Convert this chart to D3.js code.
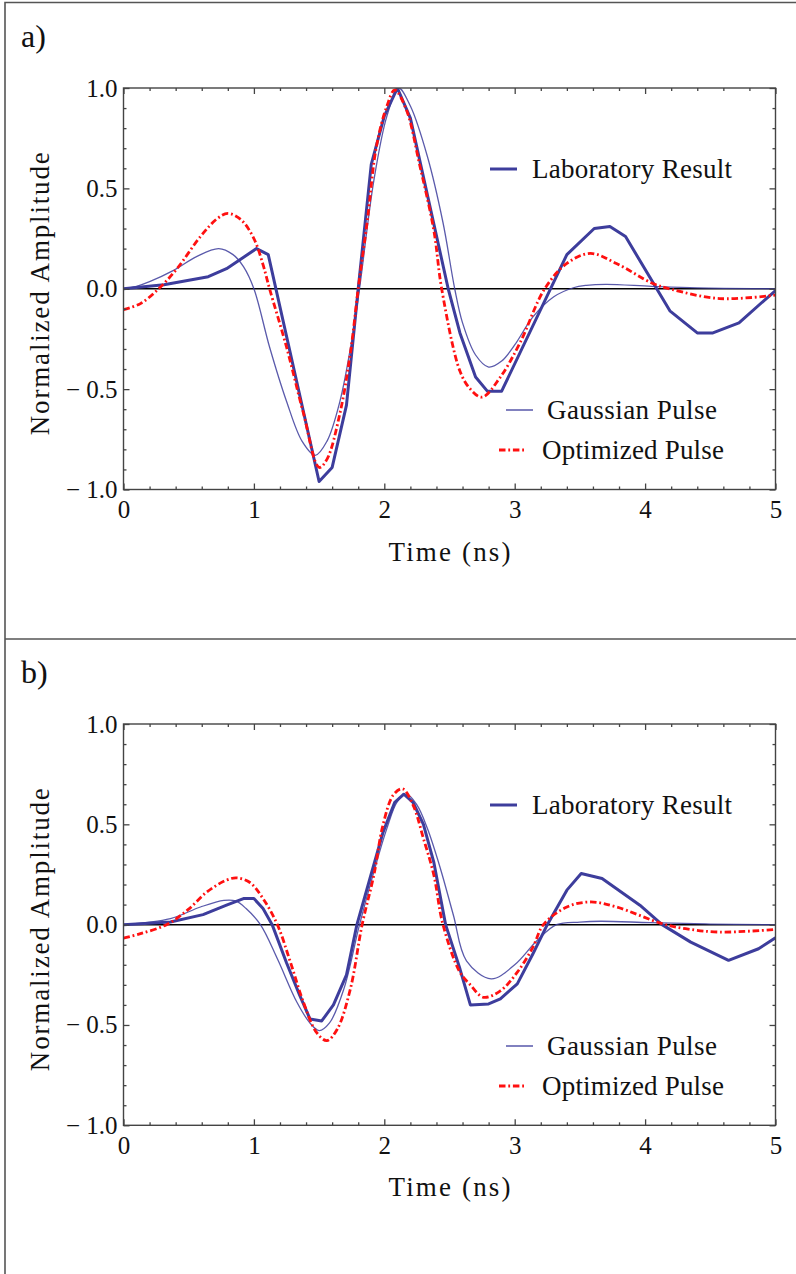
<!DOCTYPE html>
<html>
<head>
<meta charset="utf-8">
<script src="https://cdn.jsdelivr.net/npm/d3@7"></script>
<style>
  body { margin: 0; background: #fff; }
  svg { display: block; }
  text { font-family: "Liberation Serif", "Times New Roman", serif; fill: #111; }
</style>
</head>
<body>
<div id="chart"></div>
<script>
// ---- data (time in ns, normalized amplitude) ----

// panel a) laboratory result (sampled, straight segments)
const labA_t = [0, 0.31, 0.65, 0.79, 1.02, 1.11, 1.50, 1.60, 1.71, 1.80, 1.90, 2.00, 2.10, 2.20, 2.49, 2.58, 2.70, 2.79, 2.90, 3.40, 3.61, 3.73, 3.85, 4.19, 4.40, 4.52, 4.72, 4.91, 5.00];
const labA_v = [0, 0.02, 0.06, 0.10, 0.20, 0.17, -0.96, -0.89, -0.58, 0.0, 0.62, 0.86, 1.0, 0.85, 0.0, -0.22, -0.44, -0.51, -0.51, 0.17, 0.30, 0.31, 0.26, -0.11, -0.22, -0.22, -0.17, -0.06, -0.01];

// panel a) gaussian pulse
const gaussA_t = [0, 0.1, 0.2, 0.38, 0.56, 0.73, 0.84, 0.92, 1.0, 1.12, 1.25, 1.37, 1.47, 1.56, 1.66, 1.76, 1.81, 1.92, 2.02, 2.11, 2.20, 2.33, 2.45, 2.54, 2.60, 2.70, 2.80, 2.90, 3.00, 3.14, 3.30, 3.45, 3.55, 3.70, 4.05, 4.40, 5.0];
const gaussA_v = [0, 0.012, 0.035, 0.09, 0.16, 0.20, 0.17, 0.11, 0.0, -0.29, -0.56, -0.76, -0.83, -0.76, -0.56, -0.22, 0.0, 0.54, 0.86, 1.0, 0.91, 0.66, 0.33, 0.0, -0.17, -0.33, -0.39, -0.36, -0.28, -0.14, -0.04, 0.005, 0.017, 0.022, 0.012, 0.004, 0];

// panel a) optimized pulse
const optA_t = [0, 0.13, 0.27, 0.41, 0.59, 0.72, 0.80, 0.90, 1.0, 1.07, 1.12, 1.25, 1.38, 1.50, 1.56, 1.66, 1.74, 1.80, 1.87, 1.94, 2.02, 2.08, 2.17, 2.27, 2.38, 2.44, 2.58, 2.66, 2.75, 2.89, 3.04, 3.23, 3.40, 3.58, 3.78, 4.06, 4.21, 4.57, 5.0];
const optA_v = [-0.104, -0.074, 0, 0.10, 0.26, 0.35, 0.375, 0.345, 0.25, 0.12, 0, -0.29, -0.62, -0.89, -0.85, -0.62, -0.32, 0, 0.34, 0.71, 0.91, 0.99, 0.89, 0.62, 0.29, 0, -0.41, -0.50, -0.54, -0.44, -0.27, 0, 0.126, 0.176, 0.126, 0.026, -0.004, -0.049, -0.032];

// panel b) laboratory result
const labB_t = [0, 0.36, 0.61, 0.79, 0.92, 1.0, 1.07, 1.14, 1.25, 1.35, 1.43, 1.52, 1.61, 1.71, 1.79, 1.89, 1.99, 2.08, 2.15, 2.22, 2.30, 2.38, 2.47, 2.58, 2.66, 2.80, 2.89, 3.02, 3.14, 3.25, 3.40, 3.51, 3.67, 3.96, 4.13, 4.35, 4.64, 4.87, 5.0];
const labB_v = [0, 0.013, 0.05, 0.097, 0.13, 0.13, 0.08, 0, -0.19, -0.35, -0.47, -0.48, -0.40, -0.25, 0, 0.23, 0.46, 0.61, 0.65, 0.61, 0.50, 0.31, 0, -0.22, -0.40, -0.395, -0.37, -0.295, -0.145, 0, 0.172, 0.255, 0.23, 0.097, 0, -0.087, -0.178, -0.12, -0.065];

// panel b) gaussian pulse
const gaussB_t = [0, 0.36, 0.59, 0.77, 0.86, 0.94, 1.05, 1.18, 1.33, 1.43, 1.50, 1.58, 1.69, 1.81, 1.92, 2.02, 2.10, 2.17, 2.25, 2.33, 2.43, 2.53, 2.63, 2.82, 3.0, 3.17, 3.32, 3.5, 3.66, 4.04, 4.5, 5.0];
const gaussB_v = [0, 0.03, 0.088, 0.121, 0.118, 0.08, 0, -0.17, -0.387, -0.49, -0.528, -0.49, -0.32, 0, 0.263, 0.48, 0.613, 0.65, 0.597, 0.48, 0.28, 0.047, -0.18, -0.27, -0.2, -0.08, 0, 0.013, 0.017, 0.01, 0.003, 0];

// panel b) optimized pulse
const optB_t = [0, 0.13, 0.33, 0.49, 0.64, 0.79, 0.87, 0.97, 1.07, 1.18, 1.28, 1.38, 1.48, 1.56, 1.64, 1.74, 1.83, 1.92, 1.99, 2.07, 2.14, 2.22, 2.30, 2.38, 2.45, 2.58, 2.66, 2.76, 2.89, 3.02, 3.14, 3.22, 3.40, 3.58, 3.78, 4.13, 4.31, 4.57, 5.0];
const optB_v = [-0.067, -0.045, 0, 0.072, 0.163, 0.222, 0.233, 0.21, 0.13, 0, -0.187, -0.387, -0.537, -0.578, -0.52, -0.32, 0, 0.247, 0.497, 0.647, 0.677, 0.597, 0.43, 0.247, 0, -0.237, -0.30, -0.362, -0.33, -0.237, -0.112, 0, 0.088, 0.113, 0.088, 0.005, -0.02, -0.037, -0.024];

// axes
const xMajor = [0, 1, 2, 3, 4, 5];
const yMajor = [-1.0, -0.5, 0.0, 0.5, 1.0];
const seriesNames = ["Laboratory Result", "Gaussian Pulse", "Optimized Pulse"];
const panelLabels = ["a)", "b)"];

const width = 796, height = 1274;
const blue = "#3d3d9c", red = "#ff1010", frameColor = "#444";
const dotDash = "6.5,2.8,1.8,2.8";

const svg = d3.select("#chart").append("svg")
    .attr("width", width)
    .attr("height", height);

// outer panel borders
svg.append("path")
    .attr("d", "M796,2.5 H5 V1274 M5,639 H796")
    .attr("fill", "none")
    .attr("stroke", "#555")
    .attr("stroke-width", 1.6);

const x = d3.scaleLinear().domain([0, 5]).range([123.5, 775.5]);
const xMinor = d3.range(0, 5.001, 0.2).filter(t => Math.abs(t - Math.round(t)) > 1e-6);
const yMinor = d3.range(-1, 1.001, 0.1).filter(v => Math.abs(v * 2 - Math.round(v * 2)) > 1e-6);

function zip(ts, vs) {
    return ts.map((t, i) => ({ t: t, v: vs[i] }));
}

// Mathematica style tick label: "− 0.5"
const fmt1 = d3.format(".1f");
function fmtY(v) {
    return v < 0 ? "\u2212 " + fmt1(-v) : fmt1(v);
}

function drawPanel(cfg, idx) {
    const y = d3.scaleLinear().domain([-1, 1]).range([cfg.bottom, cfg.top]);
    const g = svg.append("g");

    // panel letter
    g.append("text")
        .attr("x", 21)
        .attr("y", cfg.top - 41)
        .style("font-size", "32px")
        .text(panelLabels[idx]);

    const clipId = "clip" + idx;
    g.append("clipPath").attr("id", clipId)
        .append("rect")
        .attr("x", x(0)).attr("y", y(1))
        .attr("width", x(5) - x(0)).attr("height", y(-1) - y(1));

    // zero axis
    g.append("line")
        .attr("x1", x(0)).attr("x2", x(5))
        .attr("y1", y(0)).attr("y2", y(0))
        .attr("stroke", "#000")
        .attr("stroke-width", 1.5);

    const plot = g.append("g").attr("clip-path", `url(#${clipId})`);
    const linear = d3.line().x(d => x(d.t)).y(d => y(d.v));
    const smooth = d3.line().x(d => x(d.t)).y(d => y(d.v)).curve(d3.curveCatmullRom.alpha(0.5));

    plot.append("path")
        .attr("d", smooth(zip(cfg.gauss_t, cfg.gauss_v)))
        .attr("fill", "none")
        .attr("stroke", blue)
        .attr("stroke-opacity", 0.85)
        .attr("stroke-width", 1.3);

    plot.append("path")
        .attr("d", linear(zip(cfg.lab_t, cfg.lab_v)))
        .attr("fill", "none")
        .attr("stroke", blue)
        .attr("stroke-width", 3)
        .attr("stroke-linejoin", "round");

    plot.append("path")
        .attr("d", smooth(zip(cfg.opt_t, cfg.opt_v)))
        .attr("fill", "none")
        .attr("stroke", red)
        .attr("stroke-width", 2.8)
        .attr("stroke-dasharray", dotDash);

    // frame
    g.append("rect")
        .attr("x", x(0)).attr("y", y(1))
        .attr("width", x(5) - x(0)).attr("height", y(-1) - y(1))
        .attr("fill", "none")
        .attr("stroke", frameColor)
        .attr("stroke-width", 1.4);

    // ticks, inward on all four sides
    const axes = [
        [d3.axisBottom(x).tickValues(xMajor).tickFormat(d3.format("d")), `translate(0,${y(-1)})`, 6, "bottom"],
        [d3.axisBottom(x).tickValues(xMinor), `translate(0,${y(-1)})`, 3, null],
        [d3.axisTop(x).tickValues(xMajor), `translate(0,${y(1)})`, 6, null],
        [d3.axisTop(x).tickValues(xMinor), `translate(0,${y(1)})`, 3, null],
        [d3.axisLeft(y).tickValues(yMajor).tickFormat(fmtY), `translate(${x(0)},0)`, 6, "left"],
        [d3.axisLeft(y).tickValues(yMinor), `translate(${x(0)},0)`, 3, null],
        [d3.axisRight(y).tickValues(yMajor), `translate(${x(5)},0)`, 6, null],
        [d3.axisRight(y).tickValues(yMinor), `translate(${x(5)},0)`, 3, null]
    ];
    axes.forEach(([axis, tr, size, side]) => {
        axis.tickSize(-size).tickSizeOuter(0).tickPadding(0);
        if (!side) axis.tickFormat("");
        const a = g.append("g").attr("transform", tr).call(axis);
        a.select(".domain").remove();
        a.selectAll(".tick line").attr("stroke", frameColor).attr("stroke-width", 1.3);
        a.selectAll("text")
            .style("font-family", '"Liberation Serif", serif')
            .style("font-size", "25px")
            .attr("fill", "#111");
        if (side === "bottom") a.selectAll("text").attr("y", 11);
        if (side === "left") a.selectAll("text").attr("x", -6);
    });

    // axis titles
    g.append("text")
        .attr("x", (x(0) + x(5)) / 2)
        .attr("y", y(-1) + 71)
        .attr("text-anchor", "middle")
        .attr("textLength", 122)
        .attr("lengthAdjust", "spacing")
        .style("font-size", "27px")
        .text("Time (ns)");

    g.append("text")
        .attr("transform", `translate(49,${y(0) + 5}) rotate(-90)`)
        .attr("text-anchor", "middle")
        .attr("textLength", 283)
        .attr("lengthAdjust", "spacing")
        .style("font-size", "27px")
        .text("Normalized Amplitude");

    // legend
    const legend = [
        { name: seriesNames[0], dy: 81, x1: 490, x2: 517, tx: 532, w: 200, sw: 3, color: blue, dash: null },
        { name: seriesNames[1], dy: 322, x1: 506, x2: 533, tx: 547, w: 170, sw: 1.3, color: blue, dash: null },
        { name: seriesNames[2], dy: 362, x1: 499, x2: 524, tx: 542, w: 182, sw: 2.8, color: red, dash: dotDash }
    ];
    legend.forEach(d => {
        const ly = y(1) + d.dy;
        g.append("line")
            .attr("x1", d.x1).attr("x2", d.x2)
            .attr("y1", ly).attr("y2", ly)
            .attr("stroke", d.color)
            .attr("stroke-width", d.sw)
            .attr("stroke-dasharray", d.dash);
        g.append("text")
            .attr("x", d.tx)
            .attr("y", ly + 9)
            .attr("textLength", d.w)
            .attr("lengthAdjust", "spacing")
            .style("font-size", "27px")
            .text(d.name);
    });
}

const panels = [
    { top: 88, bottom: 489.5, lab_t: labA_t, lab_v: labA_v, gauss_t: gaussA_t, gauss_v: gaussA_v, opt_t: optA_t, opt_v: optA_v },
    { top: 724, bottom: 1125.3, lab_t: labB_t, lab_v: labB_v, gauss_t: gaussB_t, gauss_v: gaussB_v, opt_t: optB_t, opt_v: optB_v }
];
panels.forEach(drawPanel);
</script>
</body>
</html>
